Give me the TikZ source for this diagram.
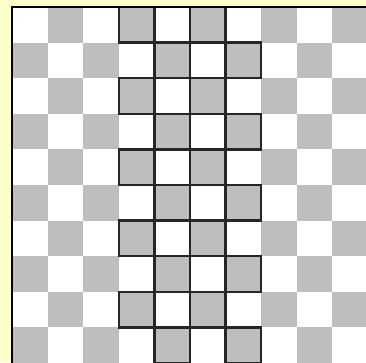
\documentclass[tikz,border=0pt]{standalone}
\definecolor{bgyellow}{HTML}{FFFFCC}
\definecolor{sqgray}{HTML}{BEBEBE}
\begin{document}
\begin{tikzpicture}[x=0.75pt,y=-0.75pt,
  graysq/.style={fill=sqgray},
  outlined/.style={draw=black!85,line width=1.8pt,fill=sqgray},
  boardedge/.style={draw=black,line width=1.4pt}]
\def\s{35.6}
\useasboundingbox (0,0) rectangle (366,362);
\fill[bgyellow] (0,0) rectangle (366,362);
\begin{scope}
\clip (12,7) rectangle (366,362);
\fill[white] (12,7) rectangle (366,362);
\foreach \r in {0,...,9}{
  \foreach \c in {0,...,4}{
    \pgfmathtruncatemacro\cc{2*\c+mod(\r+1,2)}
    \fill[graysq] ({12+\cc*\s},{7+\r*\s}) rectangle ++(\s,\s);
  }
}
\foreach \r in {0,...,9}{
  \pgfmathtruncatemacro\ca{3+mod(\r,2)}
  \pgfmathtruncatemacro\cb{5+mod(\r,2)}
  \draw[outlined] ({12+\ca*\s},{7+\r*\s}) rectangle ++(\s,\s);
  \draw[outlined] ({12+\cb*\s},{7+\r*\s}) rectangle ++(\s,\s);
}
\end{scope}
\draw[boardedge] (12,363) -- (12,7) -- (367,7);
\end{tikzpicture}
\end{document}
